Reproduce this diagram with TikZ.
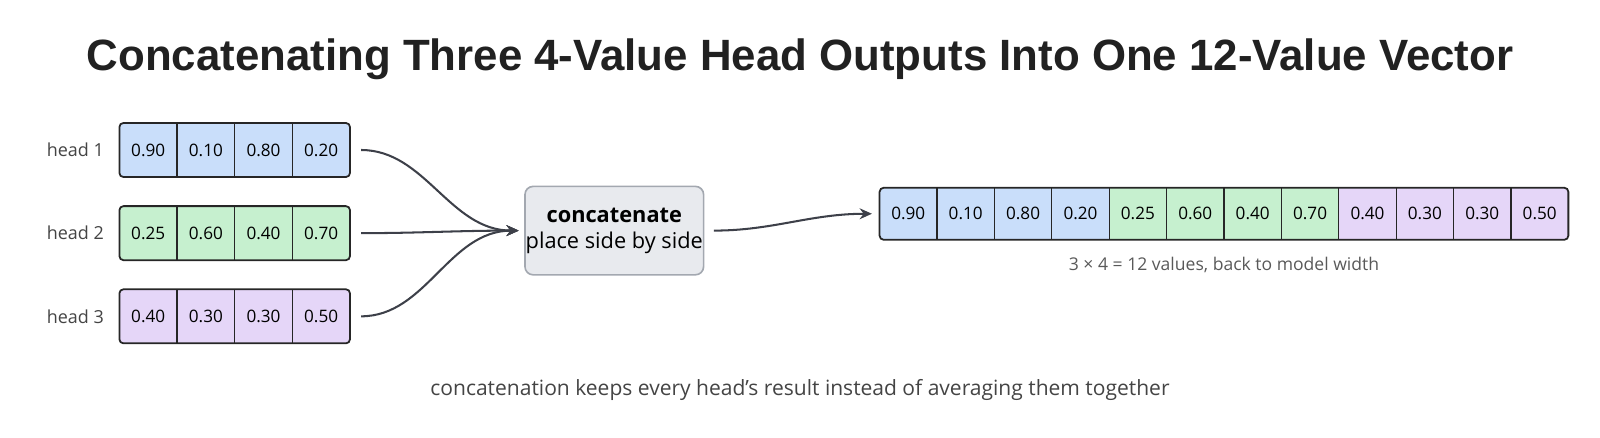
\documentclass[tikz,border=0pt]{standalone}
\usepackage{fontspec}
\setmainfont{Open Sans}
\newfontfamily\titlefont{Liberation Sans}
\usetikzlibrary{arrows.meta}

\definecolor{headblue}{HTML}{C9DEFA}
\definecolor{headgreen}{HTML}{C6F0CF}
\definecolor{headpurple}{HTML}{E5D6F8}
\definecolor{arrowgray}{HTML}{3D4049}
\definecolor{boxfill}{HTML}{E8EAEE}
\definecolor{boxline}{HTML}{A3A8B0}
\definecolor{textgray}{HTML}{444444}

\begin{document}
\begin{tikzpicture}[x=0.75pt,y=-0.75pt,
  vecbox/.style={draw=black!85,line width=1.3pt,rounded corners=3pt,inner sep=0pt,minimum height=39.75pt},
  divider/.style={draw=black!85,line width=1pt},
  cellval/.style={font=\fontsize{12.6}{15}\selectfont,inner sep=0pt},
  headlabel/.style={font=\fontsize{13.2}{16}\selectfont,text=textgray,anchor=east,inner sep=0pt},
  flow/.style={draw=arrowgray,line width=1.5pt,-{Stealth[length=9pt,width=8pt]}}]
\useasboundingbox (0,0) rectangle (1568,428.3);

% Title
\node[font=\titlefont\bfseries\fontsize{32.2}{38}\selectfont,text=black!87] (title) at (784,58) {Concatenating Three 4-Value Head Outputs Into One 12-Value Vector};

% Head outputs
\foreach \r/\y/\col/\vals in {1/147/headblue/{0.90,0.10,0.80,0.20},
                              2/228.5/headgreen/{0.25,0.60,0.40,0.70},
                              3/310/headpurple/{0.40,0.30,0.30,0.50}}{
  \node[vecbox,fill=\col,minimum width=169.5pt] (h\r) at (230,\y) {};
  \node[headlabel] (l\r) at (102,\y) {head \r};
  \foreach \v [count=\i] in \vals
    \node[cellval] (h\r v\i) at ({117+56.5*\i-28.25},\y) {\v};
  \foreach \i in {1,2,3}
    \draw[divider] ({117+56.5*\i},\y-26.5) -- ++(0,53);
}

% Concatenate step
\node[draw=boxline,fill=boxfill,line width=1.2pt,rounded corners=6pt,inner xsep=0.5pt,minimum width=131pt,minimum height=65pt,align=center,font=\fontsize{16}{19}\selectfont] (concat) at (602,226) {\textbf{concatenate}\\place side by side};

% Output vector
\begin{scope}
\clip[rounded corners=3pt] (862,184) rectangle (1537,235);
\fill[headblue] (862,184) rectangle (1087,235);
\fill[headgreen] (1087,184) rectangle (1312,235);
\fill[headpurple] (1312,184) rectangle (1537,235);
\end{scope}
\node[vecbox,minimum width=506.25pt,minimum height=38.25pt] (out) at (1199.5,209.5) {};
\foreach \v [count=\i] in {0.90,0.10,0.80,0.20,0.25,0.60,0.40,0.70,0.40,0.30,0.30,0.50}
  \node[cellval] (o\i) at ({862+56.25*\i-28.125},209.5) {\v};
\foreach \i in {1,...,11}
  \draw[divider] ({862+56.25*\i},184) -- ++(0,51);

% Connections
\foreach \r in {1,2,3}
  \draw[flow,shorten <=7.5pt,shorten >=4pt] (h\r) to[out=0,in=180] (concat);
\draw[flow,shorten <=7pt,shorten >=5pt] (concat) to[out=0,in=180] (out);

% Notes
\node[font=\fontsize{12.9}{15}\selectfont,text=black!65] (size) at (1199.5,260) {3 × 4 = 12 values, back to model width};
\node[font=\fontsize{15.45}{18}\selectfont,text=textgray] (note) at (784,382) {concatenation keeps every head's result instead of averaging them together};
\end{tikzpicture}
\end{document}
